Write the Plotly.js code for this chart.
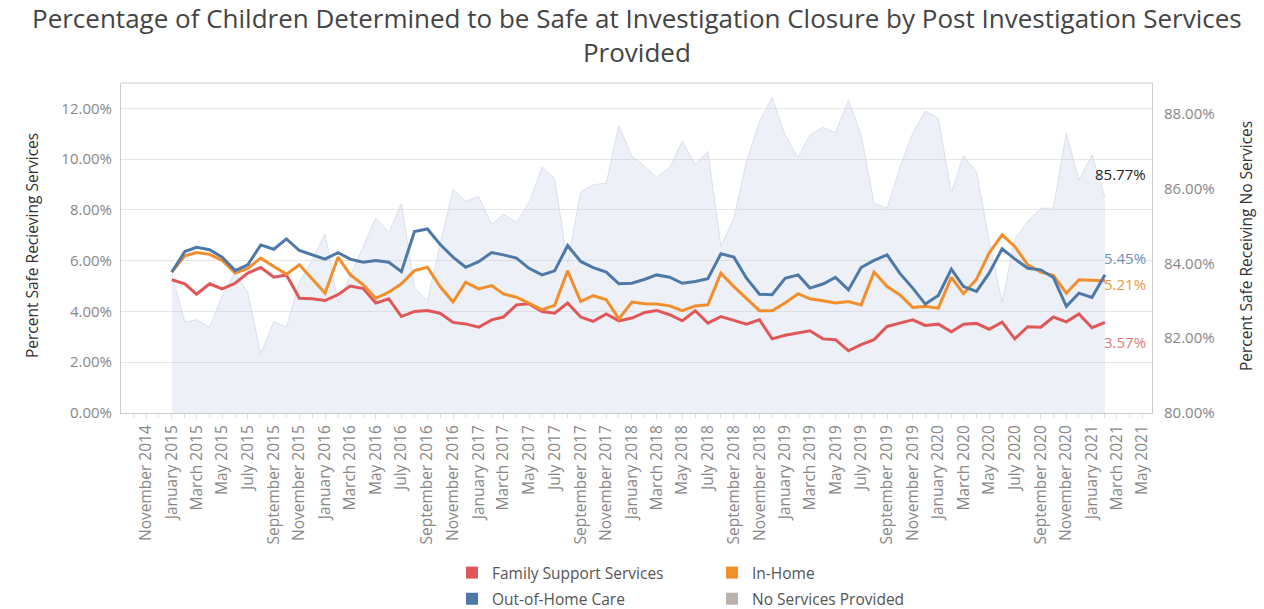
<!DOCTYPE html>
<html>
<head>
<meta charset="utf-8">
<script src="https://cdn.plot.ly/plotly-3.0.1.min.js"></script>
<style>html,body{margin:0;padding:0;background:#fff;}#chart{width:1264px;height:609px;}</style>
</head>
<body>
<div id="chart"></div>
<script>
const months = [
 '2015-01-01','2015-02-01','2015-03-01','2015-04-01','2015-05-01','2015-06-01','2015-07-01','2015-08-01','2015-09-01','2015-10-01','2015-11-01','2015-12-01',
 '2016-01-01','2016-02-01','2016-03-01','2016-04-01','2016-05-01','2016-06-01','2016-07-01','2016-08-01','2016-09-01','2016-10-01','2016-11-01','2016-12-01',
 '2017-01-01','2017-02-01','2017-03-01','2017-04-01','2017-05-01','2017-06-01','2017-07-01','2017-08-01','2017-09-01','2017-10-01','2017-11-01','2017-12-01',
 '2018-01-01','2018-02-01','2018-03-01','2018-04-01','2018-05-01','2018-06-01','2018-07-01','2018-08-01','2018-09-01','2018-10-01','2018-11-01','2018-12-01',
 '2019-01-01','2019-02-01','2019-03-01','2019-04-01','2019-05-01','2019-06-01','2019-07-01','2019-08-01','2019-09-01','2019-10-01','2019-11-01','2019-12-01',
 '2020-01-01','2020-02-01','2020-03-01','2020-04-01','2020-05-01','2020-06-01','2020-07-01','2020-08-01','2020-09-01','2020-10-01','2020-11-01','2020-12-01',
 '2021-01-01','2021-02-01'
];

const familySupport = [
 5.25,5.09,4.68,5.09,4.89,5.11,5.51,5.73,5.35,5.44,4.52,4.50,
 4.43,4.66,5.00,4.90,4.33,4.50,3.80,4.00,4.04,3.93,3.57,3.51,
 3.38,3.67,3.78,4.26,4.30,4.00,3.93,4.33,3.78,3.61,3.90,3.63,
 3.74,3.96,4.04,3.87,3.63,4.03,3.54,3.80,3.65,3.50,3.67,2.92,
 3.06,3.15,3.24,2.92,2.89,2.45,2.69,2.89,3.41,3.54,3.67,3.45,
 3.50,3.20,3.50,3.53,3.30,3.58,2.92,3.40,3.38,3.78,3.59,3.90,
 3.36,3.57
];

const inHome = [
 5.55,6.19,6.32,6.25,6.01,5.51,5.70,6.10,5.77,5.47,5.84,5.27,
 4.72,6.14,5.45,5.05,4.52,4.76,5.09,5.61,5.74,4.98,4.37,5.15,
 4.89,5.02,4.69,4.56,4.33,4.07,4.24,5.60,4.39,4.62,4.46,3.71,
 4.37,4.30,4.29,4.22,4.03,4.22,4.26,5.51,4.98,4.52,4.03,4.03,
 4.33,4.70,4.50,4.42,4.33,4.39,4.26,5.55,4.98,4.66,4.16,4.20,
 4.13,5.34,4.70,5.27,6.30,7.02,6.56,5.84,5.55,5.42,4.72,5.25,
 5.22,5.21
];

const outOfHome = [
 5.55,6.36,6.53,6.43,6.14,5.61,5.84,6.62,6.45,6.86,6.40,6.23,
 6.06,6.32,6.06,5.94,6.01,5.94,5.57,7.15,7.25,6.65,6.14,5.74,
 5.96,6.32,6.23,6.10,5.70,5.44,5.60,6.60,5.97,5.73,5.55,5.09,
 5.11,5.27,5.44,5.35,5.11,5.18,5.29,6.27,6.14,5.31,4.68,4.66,
 5.31,5.44,4.92,5.08,5.34,4.85,5.73,6.01,6.23,5.51,4.92,4.29,
 4.63,5.67,4.98,4.79,5.51,6.47,6.07,5.70,5.64,5.34,4.20,4.72,
 4.55,5.45
];

const noServices = [
 83.71,82.43,82.49,82.29,83.13,83.76,83.22,81.58,82.45,82.29,83.50,84.06,
 84.79,82.96,83.66,84.46,85.22,84.82,85.60,83.35,83.00,84.50,85.97,85.66,
 85.79,85.04,85.31,85.09,85.62,86.57,86.27,84.00,85.91,86.10,86.14,87.68,
 86.86,86.59,86.30,86.56,87.26,86.65,86.99,84.46,85.20,86.72,87.79,88.43,
 87.43,86.83,87.43,87.64,87.49,88.36,87.43,85.60,85.48,86.55,87.48,88.07,
 87.88,85.88,86.88,86.44,84.60,82.96,84.64,85.13,85.47,85.48,87.48,86.22,
 86.90,85.77
];

const seriesNames = ['Family Support Services','In-Home','Out-of-Home Care','No Services Provided'];
const seriesColors = ['#e15759','#f28e2b','#4e79a7','#bab0ac'];
const leftTicks = [0,2,4,6,8,10,12];
const leftTickText = ['0.00%','2.00%','4.00%','6.00%','8.00%','10.00%','12.00%'];
const rightTicks = [80,82,84,86,88];
const rightTickText = ['80.00%','82.00%','84.00%','86.00%','88.00%'];
const chartTitle = 'Percentage of Children Determined to be Safe at Investigation Closure by Post Investigation Services<br>Provided';
const leftAxisTitle = 'Percent Safe Recieving Services';
const rightAxisTitle = 'Percent Safe Receiving No Services';

const FONT = 'Open Sans, sans-serif';
const last = months.length - 1;

const traces = [
 {x: months, y: noServices, yaxis: 'y', type: 'scatter', mode: 'lines',
  line: {color: 'rgba(214,222,234,0.9)', width: 1}, fill: 'tozeroy',
  fillcolor: 'rgba(190,205,225,0.27)', showlegend: false, hoverinfo: 'skip'},
 {x: months, y: familySupport, yaxis: 'y2', type: 'scatter', mode: 'lines',
  line: {color: seriesColors[0], width: 3}, showlegend: false},
 {x: months, y: inHome, yaxis: 'y2', type: 'scatter', mode: 'lines',
  line: {color: seriesColors[1], width: 3}, showlegend: false},
 {x: months, y: outOfHome, yaxis: 'y2', type: 'scatter', mode: 'lines',
  line: {color: seriesColors[2], width: 3}, showlegend: false}
];
// legend column 1: Family Support, Out-of-Home; column 2: In-Home, No Services
const legendOf = ['legend', 'legend2', 'legend', 'legend2'];
seriesNames.forEach((n, k) => {
 traces.push({x: [null], y: [null], yaxis: 'y2', type: 'scatter', mode: 'markers', name: n,
  legend: legendOf[k], legendgroup: 'g' + k,
  marker: {symbol: 'square', size: 17, color: seriesColors[k]}, showlegend: true});
});

const legendBase = {orientation: 'v', xref: 'container', yref: 'container', xanchor: 'left', yanchor: 'top',
 y: 0.087, font: {family: FONT, size: 15.5, color: '#555'}, itemsizing: 'constant', tracegroupgap: 3,
 traceorder: 'grouped', bgcolor: 'rgba(0,0,0,0)'};

const layout = {
 width: 1264, height: 609,
 margin: {l: 121, r: 112, t: 83, b: 196, autoexpand: false},
 paper_bgcolor: '#fff', plot_bgcolor: 'rgba(0,0,0,0)',
 font: {family: FONT, color: '#555'},
 xaxis: {type: 'date', range: ['2014-09-02', '2021-05-24'], tick0: '2014-11-01', dtick: 'M2',
  tickformat: '%B %Y', tickangle: -90, ticks: 'outside', ticklen: 5, tickcolor: '#ddd',
  minor: {dtick: 'M1', ticks: 'outside', ticklen: 4, tickcolor: '#ddd'},
  tickfont: {family: FONT, size: 15.5, color: '#888'}, showgrid: false, zeroline: false,
  showline: true, linecolor: '#ccc', linewidth: 1, fixedrange: true},
 yaxis: {side: 'right', range: [80, 88.82], tickvals: rightTicks, ticktext: rightTickText,
  showgrid: false, zeroline: false, showline: true, linecolor: '#ccc', ticks: '', ticklabelstandoff: 8,
  tickfont: {family: FONT, size: 15, color: '#888'}},
 yaxis2: {side: 'left', overlaying: 'y', range: [0, 13], tickvals: leftTicks, ticktext: leftTickText,
  showgrid: true, gridcolor: '#e6e6e6', gridwidth: 1, zeroline: false, showline: true, linecolor: '#ccc', ticks: '',
  ticklabelstandoff: 5,
  tickfont: {family: FONT, size: 15, color: '#888'}},
 shapes: [{type: 'line', xref: 'paper', yref: 'paper', x0: 0, x1: 1, y0: 1, y1: 1, line: {color: '#ccc', width: 1}}],
 legend: Object.assign({}, legendBase, {x: 0.3576}),
 legend2: Object.assign({}, legendBase, {x: 0.5633}),
 annotations: [
  {xref: 'paper', yref: 'paper', x: 0.5, y: 1.1455, xanchor: 'center', yanchor: 'middle', showarrow: false,
   text: chartTitle, font: {family: FONT, size: 26, color: '#444'}},
  {xref: 'paper', yref: 'paper', x: -0.0863, y: 0.506, xanchor: 'center', yanchor: 'middle', showarrow: false,
   textangle: -90, text: leftAxisTitle, font: {family: FONT, size: 15.5, color: '#333'}},
  {xref: 'paper', yref: 'paper', x: 1.0912, y: 0.506, xanchor: 'center', yanchor: 'middle', showarrow: false,
   textangle: -90, text: rightAxisTitle, font: {family: FONT, size: 15.5, color: '#333'}},
  {x: months[last], y: noServices[last], xref: 'x', yref: 'y', text: noServices[last].toFixed(2) + '%', showarrow: false,
   xanchor: 'left', yanchor: 'middle', xshift: -12, yshift: 23, font: {family: FONT, size: 15, color: '#222'}},
  {x: months[last], y: outOfHome[last], xref: 'x', yref: 'y2', text: outOfHome[last].toFixed(2) + '%', showarrow: false,
   xanchor: 'left', yanchor: 'middle', xshift: -3, yshift: 17, font: {family: FONT, size: 15, color: '#6d8fbb'}},
  {x: months[last], y: inHome[last], xref: 'x', yref: 'y2', text: inHome[last].toFixed(2) + '%', showarrow: false,
   xanchor: 'left', yanchor: 'middle', xshift: -3, yshift: -3, font: {family: FONT, size: 15, color: '#f0983f'}},
  {x: months[last], y: familySupport[last], xref: 'x', yref: 'y2', text: familySupport[last].toFixed(2) + '%', showarrow: false,
   xanchor: 'left', yanchor: 'middle', xshift: -3, yshift: -20, font: {family: FONT, size: 15, color: '#e8777a'}}
 ]
};

Plotly.newPlot('chart', traces, layout, {displayModeBar: false, responsive: false});
</script>
</body>
</html>
